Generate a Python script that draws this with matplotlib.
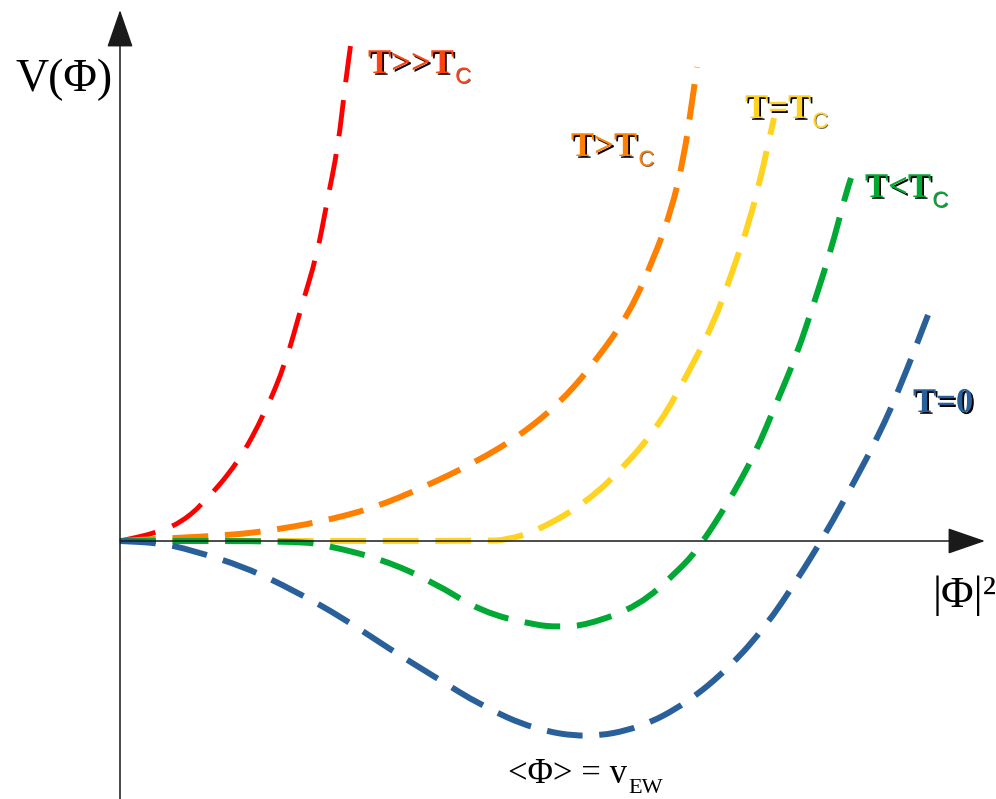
import matplotlib
matplotlib.use('Agg')
import matplotlib.pyplot as plt
import matplotlib.patheffects as pe
from matplotlib.path import Path
from matplotlib.patches import PathPatch

# curves, origin at the axis crossing
red_x = [0, 36, 60, 82, 118, 145, 166, 181, 197, 207, 218, 225, 232]
red_v = [0, 8, 18, 36, 78, 128, 179, 233, 286, 339, 394, 455, 506]

orange_x = [0, 55, 111, 147, 200, 254, 304, 354, 401, 443, 478, 510, 533, 551, 564, 572, 577]
orange_v = [0, 3, 6, 10, 19, 33, 54, 78, 106, 141, 183, 229, 281, 329, 384, 439, 474]

yellow_x = [0, 365, 387, 419, 467, 508, 541, 567, 593, 612, 630, 643, 654]
yellow_v = [0, 0, 1, 11, 39, 78, 119, 166, 216, 268, 321, 373, 423]

green_x = [0, 179, 210, 264, 313, 362, 414, 440, 467, 519, 559, 578, 608, 635, 656, 677, 695, 711, 725, 731]
green_v = [0, 0, -5, -19, -41, -71, -84, -86, -84, -65, -29, -8, 38, 87, 137, 187, 241, 291, 344, 363]

blue_x = [0, 40, 71, 125, 175, 223, 268, 315, 362, 413, 467, 520, 567, 610, 646, 677, 706, 733, 759, 781, 808]
blue_v = [0, -2, -9, -26, -50, -77, -107, -136, -165, -188, -197, -187, -162, -126, -85, -39, 8, 57, 106, 156, 226]

labels = ['T>>T', 'T>T', 'T=T', 'T<T']
label_colors = ['#ff420e', '#ff8000', '#ffd320', '#00a933']


def smooth_path(xs, ys):
    # quadratic bezier through the midpoints, read points act as control points
    pts = list(zip(xs, ys))
    verts = [pts[0], ((pts[0][0] + pts[1][0]) / 2, (pts[0][1] + pts[1][1]) / 2)]
    codes = [Path.MOVETO, Path.LINETO]
    for i in range(1, len(pts) - 1):
        mid = ((pts[i][0] + pts[i + 1][0]) / 2, (pts[i][1] + pts[i + 1][1]) / 2)
        verts += [pts[i], mid]
        codes += [Path.CURVE3, Path.CURVE3]
    verts.append(pts[-1])
    codes.append(Path.LINETO)
    return Path(verts, codes)


fig = plt.figure(figsize=(9.96, 7.99), dpi=100)
ax = fig.add_axes([0, 0, 1, 1])
ax.set_xlim(-120, 876)
ax.set_ylim(-258, 541)
ax.axis('off')

# axes with arrow heads
arrow = dict(arrowstyle='-|>,head_length=2.4,head_width=0.83', mutation_scale=10,
             color='#1a1a1a', lw=1.1, shrinkA=0, shrinkB=0)
ax.annotate('', xy=(865, 0), xytext=(0, 0), arrowprops=arrow)
ax.annotate('', xy=(0, 531), xytext=(0, -258), arrowprops=arrow)

# dashed potential curves
curves = [(red_x, red_v, '#ff0000', 3.5, (7.5, 3.7)),
          (orange_x, orange_v, '#ff8000', 4.3, (6, 2.8)),
          (yellow_x, yellow_v, '#ffd320', 4.3, (6, 2.8)),
          (green_x, green_v, '#00a933', 4.3, (6, 2.8)),
          (blue_x, blue_v, '#2a6099', 4.3, (6, 2.8))]
for xs, ys, col, lw, dash in curves:
    ax.add_patch(PathPatch(smooth_path(xs, ys), fill=False, edgecolor=col, lw=lw,
                           linestyle=(0, dash), capstyle='butt'))

# axis labels
serif = 'Liberation Serif'
ax.text(-105, 450, 'V(Φ)', family=serif, fontsize=33, ha='left', va='baseline')
ax.text(813, -66, '|Φ|²', family=serif, fontsize=32, ha='left', va='baseline')
t = ax.text(388, -242, '<Φ> = v', family=serif, fontsize=25, ha='left', va='baseline')
ax.annotate('EW', xy=(1, 0), xycoords=t, xytext=(1, -5), textcoords='offset points',
            family=serif, fontsize=16, ha='left', va='bottom')

# temperature labels with black shadow
shadow = [pe.SimplePatchShadow(offset=(1.3, -1.3), shadow_rgbFace='black', alpha=1), pe.Normal()]
label_pos = [(248, 468), (451, 385), (625, 423), (745, 344)]
for txt, col, (lx, ly) in zip(labels, label_colors, label_pos):
    m = ax.text(lx, ly, txt, family=serif, fontweight='bold', fontsize=25, color=col,
                ha='left', va='baseline', path_effects=shadow)
    ax.annotate('C', xy=(1, 0), xycoords=m, xytext=(1, -5), textcoords='offset points',
                family='Liberation Sans', fontsize=16, color=col, ha='left', va='bottom',
                path_effects=[pe.SimplePatchShadow(offset=(0.6, -0.6), shadow_rgbFace='black', alpha=0.6), pe.Normal()])
ax.text(793, 129, 'T=0', family=serif, fontweight='bold', fontsize=25, color='#2a6099',
        ha='left', va='baseline', path_effects=shadow)

plt.savefig('out.png', dpi=100)
